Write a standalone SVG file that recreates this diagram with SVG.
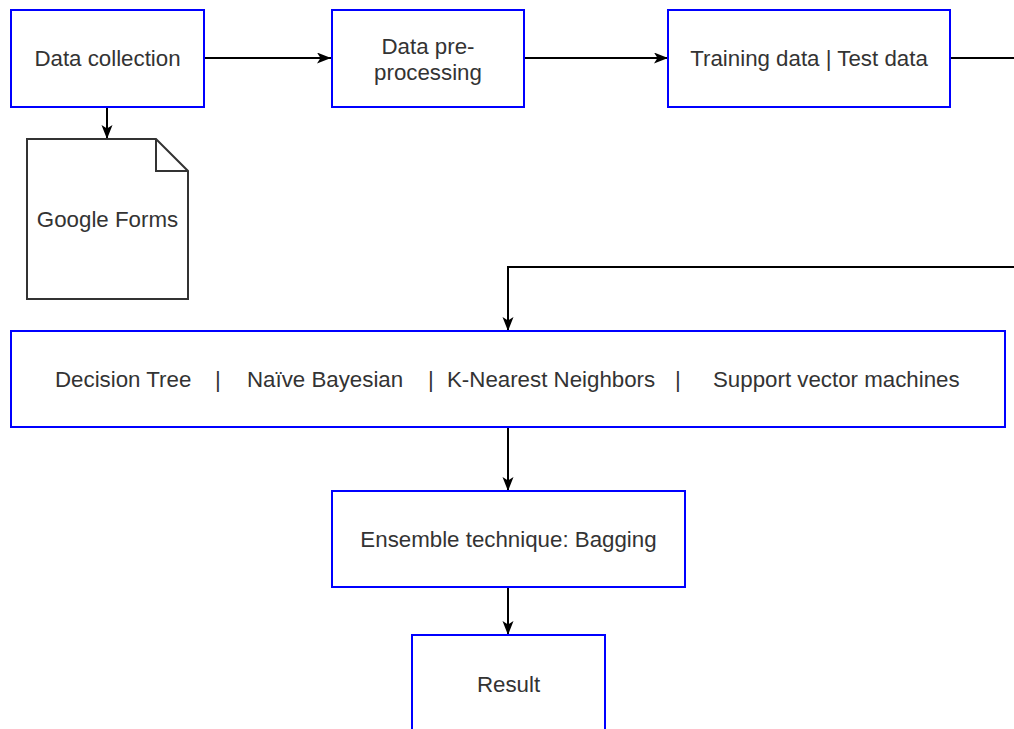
<svg xmlns="http://www.w3.org/2000/svg" width="1014" height="729" viewBox="0 0 1014 729">
  <style>
    .box { fill: #ffffff; stroke: #0000ff; stroke-width: 2; }
    .doc { fill: #ffffff; stroke: #333333; stroke-width: 2; stroke-linejoin: miter; }
    .edge { fill: none; stroke: #000000; stroke-width: 2; }
    .label { font-family: "Liberation Sans", Arial, sans-serif; font-size: 22.3px; fill: #333333; text-anchor: middle; }
    .row { font-family: "Liberation Sans", Arial, sans-serif; font-size: 22.3px; fill: #333333; }
  </style>
  <defs>
    <marker id="arrow" markerUnits="userSpaceOnUse" markerWidth="16" markerHeight="12" refX="14" refY="5.5" orient="auto">
      <path d="M0,0 L14,5.5 L0,11 L3.5,5.5 Z" fill="#000000"/>
    </marker>
  </defs>
  <rect width="1014" height="729" fill="#ffffff"/>

  <!-- connectors -->
  <g id="edges">
    <line class="edge" x1="204" y1="58" x2="331" y2="58" marker-end="url(#arrow)"/>
    <line class="edge" x1="524" y1="58" x2="668" y2="58" marker-end="url(#arrow)"/>
    <line class="edge" x1="107" y1="107" x2="107" y2="139" marker-end="url(#arrow)"/>
    <line class="edge" x1="950" y1="58" x2="1016" y2="58"/>
    <polyline class="edge" points="1016,267 508,267 508,331" marker-end="url(#arrow)"/>
    <line class="edge" x1="508" y1="427" x2="508" y2="491" marker-end="url(#arrow)"/>
    <line class="edge" x1="508" y1="587" x2="508" y2="635" marker-end="url(#arrow)"/>
  </g>

  <g id="data-collection">
    <rect class="box" x="11" y="10" width="193" height="97"/>
    <text class="label" x="107.5" y="66">Data collection</text>
  </g>

  <g id="google-forms">
    <path class="doc" d="M27,139 H156 L188,171 V299 H27 Z M156,139 V171 H188"/>
    <text class="label" x="107.5" y="227">Google Forms</text>
  </g>

  <g id="preprocessing">
    <rect class="box" x="332" y="10" width="192" height="97"/>
    <text class="label" x="428" y="54">Data pre-</text>
    <text class="label" x="428" y="80">processing</text>
  </g>

  <g id="train-test">
    <rect class="box" x="668" y="10" width="282" height="97"/>
    <text class="label" x="809" y="66">Training data | Test data</text>
  </g>

  <g id="classifiers">
    <rect class="box" x="11" y="331" width="994" height="96"/>
    <text class="row" y="387">
      <tspan x="55">Decision Tree</tspan>
      <tspan x="215">|</tspan>
      <tspan x="247">Naïve Bayesian</tspan>
      <tspan x="428">|</tspan>
      <tspan x="447">K-Nearest Neighbors</tspan>
      <tspan x="675">|</tspan>
      <tspan x="713">Support vector machines</tspan>
    </text>
  </g>

  <g id="ensemble">
    <rect class="box" x="332" y="491" width="353" height="96"/>
    <text class="label" x="508.5" y="547">Ensemble technique: Bagging</text>
  </g>

  <g id="result">
    <rect class="box" x="412" y="635" width="193" height="97"/>
    <text class="label" x="508.5" y="692">Result</text>
  </g>
</svg>
